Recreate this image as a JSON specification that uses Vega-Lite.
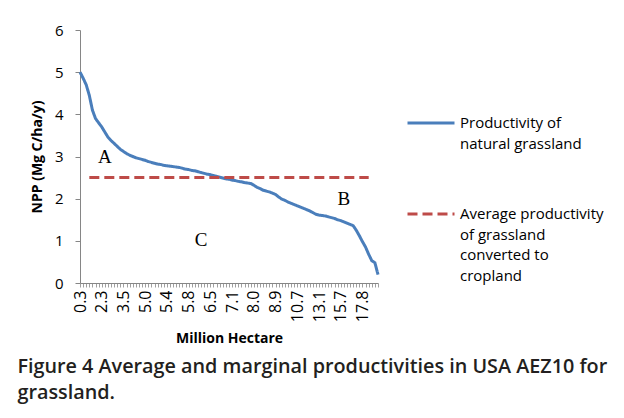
{
  "$schema": "https://vega.github.io/schema/vega-lite/v6.json",
  "width": 298,
  "height": 253,
  "autosize": {"type": "none"},
  "padding": {"left": 80, "top": 30, "right": 246, "bottom": 135},
  "background": "white",
  "config": {"view": {"stroke": null}, "font": "Open Sans"},
  "title": {
    "text": ["Figure 4 Average and marginal productivities in USA AEZ10 for", "grassland."],
    "orient": "bottom", "anchor": "start", "fontSize": 19.8, "fontWeight": 600,
    "color": "#231f20", "lineHeight": 26, "offset": 11, "dx": -13
  },
  "datasets": {
    "curve": [
      {"cat": "0.3", "npp": 5.00}, {"cat": "0.3#1", "npp": 4.86}, {"cat": "0.3#2", "npp": 4.70}, {"cat": "0.3#3", "npp": 4.45},
      {"cat": "0.3#4", "npp": 4.10}, {"cat": "0.3#5", "npp": 3.90}, {"cat": "0.3#6", "npp": 3.80},
      {"cat": "2.3", "npp": 3.70}, {"cat": "2.3#1", "npp": 3.58}, {"cat": "2.3#2", "npp": 3.46}, {"cat": "2.3#3", "npp": 3.38},
      {"cat": "2.3#4", "npp": 3.31}, {"cat": "2.3#5", "npp": 3.24}, {"cat": "2.3#6", "npp": 3.17},
      {"cat": "3.5", "npp": 3.12}, {"cat": "3.5#1", "npp": 3.07}, {"cat": "3.5#2", "npp": 3.03}, {"cat": "3.5#3", "npp": 3.00},
      {"cat": "3.5#4", "npp": 2.97}, {"cat": "3.5#5", "npp": 2.95}, {"cat": "3.5#6", "npp": 2.93},
      {"cat": "5.0", "npp": 2.91}, {"cat": "5.0#1", "npp": 2.88}, {"cat": "5.0#2", "npp": 2.86}, {"cat": "5.0#3", "npp": 2.84},
      {"cat": "5.0#4", "npp": 2.82}, {"cat": "5.0#5", "npp": 2.81}, {"cat": "5.0#6", "npp": 2.79},
      {"cat": "5.4", "npp": 2.78}, {"cat": "5.4#1", "npp": 2.77}, {"cat": "5.4#2", "npp": 2.76}, {"cat": "5.4#3", "npp": 2.75},
      {"cat": "5.4#4", "npp": 2.74}, {"cat": "5.4#5", "npp": 2.72}, {"cat": "5.4#6", "npp": 2.70},
      {"cat": "5.8", "npp": 2.69}, {"cat": "5.8#1", "npp": 2.67}, {"cat": "5.8#2", "npp": 2.66}, {"cat": "5.8#3", "npp": 2.64},
      {"cat": "5.8#4", "npp": 2.62}, {"cat": "5.8#5", "npp": 2.60}, {"cat": "5.8#6", "npp": 2.58},
      {"cat": "6.5", "npp": 2.57}, {"cat": "6.5#1", "npp": 2.55}, {"cat": "6.5#2", "npp": 2.53}, {"cat": "6.5#3", "npp": 2.51},
      {"cat": "6.5#4", "npp": 2.49}, {"cat": "6.5#5", "npp": 2.47}, {"cat": "6.5#6", "npp": 2.46},
      {"cat": "7.1", "npp": 2.44}, {"cat": "7.1#1", "npp": 2.43}, {"cat": "7.1#2", "npp": 2.41}, {"cat": "7.1#3", "npp": 2.40},
      {"cat": "7.1#4", "npp": 2.38}, {"cat": "7.1#5", "npp": 2.37}, {"cat": "7.1#6", "npp": 2.36},
      {"cat": "8.0", "npp": 2.32}, {"cat": "8.0#1", "npp": 2.27}, {"cat": "8.0#2", "npp": 2.24}, {"cat": "8.0#3", "npp": 2.20},
      {"cat": "8.0#4", "npp": 2.18}, {"cat": "8.0#5", "npp": 2.16}, {"cat": "8.0#6", "npp": 2.13},
      {"cat": "8.9", "npp": 2.10}, {"cat": "8.9#1", "npp": 2.04}, {"cat": "8.9#2", "npp": 1.99}, {"cat": "8.9#3", "npp": 1.96},
      {"cat": "8.9#4", "npp": 1.92}, {"cat": "8.9#5", "npp": 1.89}, {"cat": "8.9#6", "npp": 1.86},
      {"cat": "10.7", "npp": 1.83}, {"cat": "10.7#1", "npp": 1.80}, {"cat": "10.7#2", "npp": 1.77}, {"cat": "10.7#3", "npp": 1.74},
      {"cat": "10.7#4", "npp": 1.71}, {"cat": "10.7#5", "npp": 1.67}, {"cat": "10.7#6", "npp": 1.63},
      {"cat": "13.1", "npp": 1.61}, {"cat": "13.1#1", "npp": 1.60}, {"cat": "13.1#2", "npp": 1.59}, {"cat": "13.1#3", "npp": 1.57},
      {"cat": "13.1#4", "npp": 1.55}, {"cat": "13.1#5", "npp": 1.53}, {"cat": "13.1#6", "npp": 1.50},
      {"cat": "15.7", "npp": 1.48}, {"cat": "15.7#1", "npp": 1.45}, {"cat": "15.7#2", "npp": 1.42}, {"cat": "15.7#3", "npp": 1.39},
      {"cat": "15.7#4", "npp": 1.36}, {"cat": "15.7#5", "npp": 1.25}, {"cat": "15.7#6", "npp": 1.12},
      {"cat": "17.8", "npp": 0.98}, {"cat": "17.8#1", "npp": 0.85}, {"cat": "17.8#2", "npp": 0.68}, {"cat": "17.8#3", "npp": 0.53},
      {"cat": "17.8#4", "npp": 0.48}, {"cat": "17.8#5", "npp": 0.20}
    ],
    "avg": [
      {"cat": "0.3#3", "cat2": "17.8#2", "npp": 2.5}
    ],
    "letters": [
      {"cat": "2.3#1", "npp": 3.0, "label": "A"},
      {"cat": "15.7#1", "npp": 1.99, "label": "B"},
      {"cat": "5.8#4", "npp": 1.02, "label": "C"}
    ]
  },
  "layer": [
    {
      "data": {"name": "curve"},
      "transform": [{"calculate": "'Productivity of\\nnatural grassland'", "as": "series"}],
      "mark": {"type": "line", "strokeWidth": 3},
      "encoding": {
        "x": {
          "field": "cat", "type": "ordinal", "sort": null,
          "scale": {"type": "point", "padding": 0},
          "axis": {
            "title": "Million Hectare", "titleFontSize": 14, "titleFontWeight": "bold", "titleColor": "#000",
            "titlePadding": 10,
            "labelExpr": "indexof(datum.value, '#') < 0 ? datum.value : ''",
            "labelAngle": -90, "labelAlign": "right", "labelBaseline": "middle",
            "labelFontSize": 16, "labelColor": "#000", "labelPadding": 3, "labelOverlap": false,
            "domainColor": "#868686", "tickColor": "#a0a0a0", "tickSize": 4, "grid": false
          }
        },
        "y": {
          "field": "npp", "type": "quantitative",
          "scale": {"domain": [0, 6]},
          "axis": {
            "title": "NPP (Mg C/ha/y)", "titleFontSize": 14, "titleFontWeight": "bold", "titleColor": "#000",
            "titlePadding": 10,
            "values": [0, 1, 2, 3, 4, 5, 6], "labelFontSize": 15, "labelColor": "#000", "labelPadding": 12,
            "domainColor": "#868686", "tickColor": "#868686", "tickSize": 5, "grid": false
          }
        },
        "color": {
          "field": "series", "type": "nominal",
          "scale": {
            "domain": ["Productivity of\nnatural grassland", "Average productivity\nof grassland\nconverted to\ncropland"],
            "range": ["#4a7ebb", "#be4b48"]
          },
          "legend": {
            "title": null, "orient": "none", "legendX": 326, "legendY": 68,
            "symbolType": "stroke", "symbolSize": 2209, "symbolStrokeWidth": 3,
            "labelExpr": "split(datum.label, '\\n')", "labelFontSize": 15, "labelColor": "#000",
            "labelOffset": 4, "rowPadding": 37, "labelLimit": 300,
            "encode": {"labels": {"update": {"lineHeight": {"value": 20.5}}}}
          }
        },
        "strokeDash": {
          "field": "series", "type": "nominal",
          "scale": {
            "domain": ["Productivity of\nnatural grassland", "Average productivity\nof grassland\nconverted to\ncropland"],
            "range": [[1, 0], [10, 5]]
          },
          "legend": {
            "title": null, "orient": "none", "legendX": 326, "legendY": 68,
            "symbolType": "stroke", "symbolSize": 2209, "symbolStrokeWidth": 3,
            "labelExpr": "split(datum.label, '\\n')", "labelFontSize": 15, "labelColor": "#000",
            "labelOffset": 4, "rowPadding": 37, "labelLimit": 300,
            "encode": {"labels": {"update": {"lineHeight": {"value": 20.5}}}}
          }
        }
      }
    },
    {
      "data": {"name": "avg"},
      "transform": [{"calculate": "'Average productivity\\nof grassland\\nconverted to\\ncropland'", "as": "series"}],
      "mark": {"type": "rule", "strokeWidth": 3},
      "encoding": {
        "x": {"field": "cat", "type": "ordinal", "sort": null},
        "x2": {"field": "cat2"},
        "y": {"field": "npp", "type": "quantitative"},
        "color": {"field": "series", "type": "nominal"},
        "strokeDash": {"field": "series", "type": "nominal"}
      }
    },
    {
      "data": {"name": "letters"},
      "mark": {"type": "text", "font": "Liberation Serif", "fontSize": 19, "color": "#000"},
      "encoding": {
        "x": {"field": "cat", "type": "ordinal", "sort": null},
        "y": {"field": "npp", "type": "quantitative"},
        "text": {"field": "label"}
      }
    }
  ]
}
